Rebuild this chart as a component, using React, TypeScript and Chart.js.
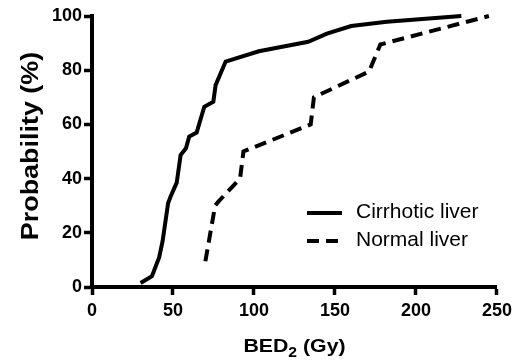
import React, { useEffect, useRef } from "react";
import { Chart, registerables } from "chart.js";

Chart.register(...registerables);

const cirrhoticX = [30, 37, 41.5, 43.6, 47, 48.6, 52.3, 54.7, 58, 60, 64.6, 69.3, 74.9, 76.3, 82.5, 103, 133.5, 145, 160, 182, 228];
const cirrhoticY = [1.5, 4, 11, 17, 31, 33.5, 38.5, 48.7, 51.2, 55.5, 57, 66.5, 68.4, 74.5, 83.2, 87, 90.5, 93.5, 96.3, 97.9, 100];
const normalX = [70, 76, 78, 91.4, 93.5, 135, 137, 171, 178, 245];
const normalY = [9.5, 30, 31.5, 40, 50, 60, 70, 79.5, 89.5, 100];
const seriesNames = ["Cirrhotic liver", "Normal liver"];
const xTitleParts = ["BED", "2", " (Gy)"];
const yTitle = "Probability (%)";

const FONT = "'Liberation Sans', Arial, Helvetica, sans-serif";
const DASH = [12, 7];

const decorPlugin = {
  id: "decor",
  afterDraw(chart: any) {
    const ctx = chart.ctx as CanvasRenderingContext2D;
    const ca = chart.chartArea;
    ctx.save();
    ctx.fillStyle = "#000";
    // Y title
    ctx.save();
    ctx.translate(32, 146);
    ctx.rotate(-Math.PI / 2);
    ctx.font = `bold 23px ${FONT}`;
    ctx.textAlign = "center";
    ctx.textBaseline = "middle";
    ctx.scale(1.17, 1);
    ctx.fillText(yTitle, 0, 0);
    ctx.restore();
    // X title with subscript
    ctx.save();
    const big = `bold 19px ${FONT}`;
    const small = `bold 14px ${FONT}`;
    ctx.font = big;
    const w1 = ctx.measureText(xTitleParts[0]).width;
    const w3 = ctx.measureText(xTitleParts[2]).width;
    ctx.font = small;
    const w2 = ctx.measureText(xTitleParts[1]).width;
    const sx = 1.12;
    const total = (w1 + w2 + w3) * sx;
    const cx = (ca.left + ca.right) / 2;
    ctx.translate(cx - total / 2, 351.5);
    ctx.scale(sx, 1);
    ctx.textBaseline = "alphabetic";
    ctx.textAlign = "left";
    ctx.font = big;
    ctx.fillText(xTitleParts[0], 0, 0);
    ctx.font = small;
    ctx.fillText(xTitleParts[1], w1, 5);
    ctx.font = big;
    ctx.fillText(xTitleParts[2], w1 + w2, 0);
    ctx.restore();
    // Legend
    const items = [
      { y: 213, dash: [] as number[] },
      { y: 241, dash: DASH },
    ];
    items.forEach((it, i) => {
      ctx.save();
      ctx.strokeStyle = "#000";
      ctx.lineWidth = 4;
      ctx.setLineDash(it.dash);
      ctx.beginPath();
      ctx.moveTo(307, it.y);
      ctx.lineTo(342, it.y);
      ctx.stroke();
      ctx.restore();
      ctx.font = `21px ${FONT}`;
      ctx.textAlign = "left";
      ctx.textBaseline = "middle";
      ctx.fillText(seriesNames[i], 356, it.y - 0.5);
    });
    ctx.restore();
  },
};

export default function App() {
  const ref = useRef<HTMLCanvasElement | null>(null);
  useEffect(() => {
    if (!ref.current) return;
    const chart = new Chart(ref.current, {
      type: "scatter",
      data: {
        datasets: [
          {
            label: seriesNames[0],
            data: cirrhoticX.map((x, i) => ({ x, y: cirrhoticY[i] })),
            showLine: true,
            borderColor: "#000",
            borderWidth: 4,
            pointRadius: 0,
            tension: 0,
            clip: false,
          } as any,
          {
            label: seriesNames[1],
            data: normalX.map((x, i) => ({ x, y: normalY[i] })),
            showLine: true,
            borderColor: "#000",
            borderWidth: 4,
            borderDash: DASH,
            pointRadius: 0,
            tension: 0,
            clip: false,
          } as any,
        ],
      },
      options: {
        animation: false,
        responsive: false,
        maintainAspectRatio: false,
        layout: { padding: { top: 16, right: 20, left: 0, bottom: 0 } },
        plugins: { legend: { display: false }, tooltip: { enabled: false } },
        scales: {
          x: {
            type: "linear",
            min: 0,
            max: 250,
            ticks: {
              stepSize: 50,
              color: "#000",
              font: { family: FONT, weight: "bold", size: 18 },
              padding: 5,
              maxRotation: 0,
            },
            grid: {
              display: true,
              drawOnChartArea: false,
              drawTicks: true,
              tickLength: 8,
              tickWidth: 3.5,
              tickColor: "#000",
            },
            border: { display: true, color: "#000", width: 4 },
            afterFit: (s: any) => {
              s.height = 75;
            },
          },
          y: {
            type: "linear",
            min: 0,
            max: 100,
            ticks: {
              stepSize: 20,
              color: "#000",
              font: { family: FONT, weight: "bold", size: 18 },
              padding: 2,
            },
            grid: {
              display: true,
              drawOnChartArea: false,
              drawTicks: true,
              tickLength: 8,
              tickWidth: 3.5,
              tickColor: "#000",
            },
            border: { display: true, color: "#000", width: 4 },
            afterFit: (s: any) => {
              s.width = 92;
            },
          },
        },
      } as any,
      plugins: [decorPlugin],
    });
    return () => chart.destroy();
  }, []);
  return (
    <div style={{ position: "fixed", left: 0, top: 0, width: 517, height: 362, background: "#fff" }}>
      <canvas ref={ref} width={517} height={362} style={{ width: 517, height: 362 }} />
    </div>
  );
}
